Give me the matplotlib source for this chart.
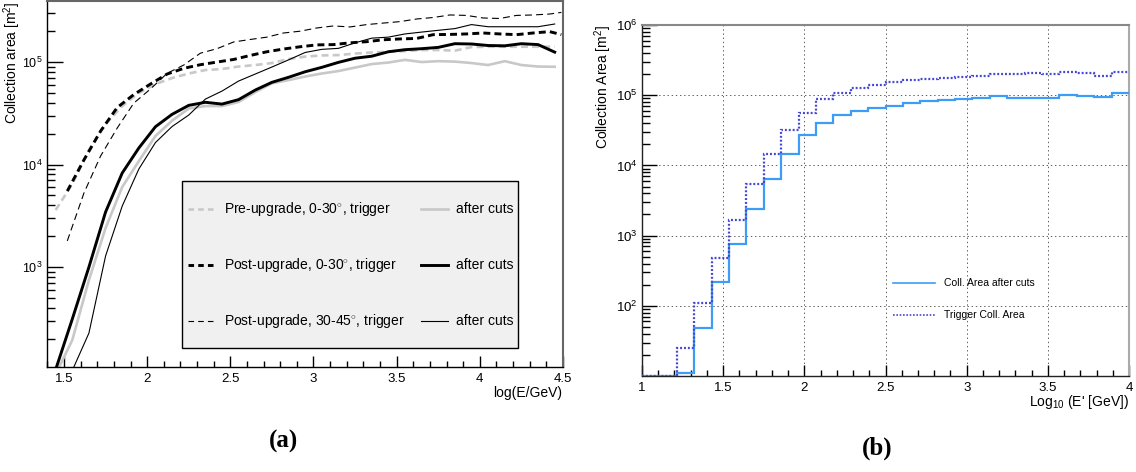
import numpy as np
import matplotlib
matplotlib.use("Agg")
import matplotlib.pyplot as plt
from matplotlib.lines import Line2D
from matplotlib.patches import Rectangle
from matplotlib.ticker import (LogLocator, LogFormatterMathtext, MultipleLocator,
                               NullFormatter, FixedLocator, FuncFormatter)

plt.rcParams.update({
    "font.family": ["Liberation Sans", "DejaVu Sans"],
    "mathtext.fontset": "custom",
    "mathtext.rm": "Liberation Sans",
    "mathtext.it": "Liberation Sans:italic",
    "mathtext.bf": "Liberation Sans:bold",
    "lines.scale_dashes": False,
    "font.size": 10,
})

# ---------------- panel (a): collection area vs log(E/GeV) ----------------
logE = [1.45, 1.55, 1.65, 1.75, 1.85, 1.95, 2.05, 2.15, 2.25, 2.35, 2.45, 2.55,
        2.65, 2.75, 2.85, 2.95, 3.05, 3.15, 3.25, 3.35, 3.45, 3.55, 3.65, 3.75,
        3.85, 3.95, 4.05, 4.15, 4.25, 4.35, 4.45]
logE_post_trig = [1.52, 1.62, 1.72, 1.82, 1.92, 2.02, 2.12, 2.22, 2.32, 2.42, 2.52,
                  2.62, 2.72, 2.82, 2.92, 3.02, 3.12, 3.22, 3.32, 3.42, 3.52, 3.62,
                  3.72, 3.82, 3.92, 4.02, 4.12, 4.22, 4.32, 4.42, 4.49]

pre_trig = [3600, 6460, 13800, 24800, 37200, 49900, 61000, 69800, 77300, 83600,
            85500, 90400, 93500, 97800, 107000, 113000, 116000, 117000, 121000,
            124000, 126000, 128000, 131000, 131000, 129000, 140000, 141000,
            141000, 141000, 141000, 141000]
pre_cuts = [90, 194, 747, 2400, 6030, 10800, 19000, 26800, 35200, 37200, 37200,
            40800, 50900, 62000, 66700, 72200, 77300, 81700, 88300, 95600, 98900,
            105000, 100000, 102000, 101000, 97800, 93500, 102000, 93500, 90400,
            89900]
post_trig = [5510, 11100, 21200, 36000, 48200, 61000, 76400, 86800, 94200,
             100000, 106000, 116000, 126000, 134000, 141000, 147000, 148000,
             154000, 158000, 165000, 168000, 170000, 185000, 186000, 188000,
             192000, 188000, 185000, 192000, 198000, 185000]
post_cuts = [100, 311, 1000, 3440, 8260, 14500, 23400, 30900, 37800, 40500, 38900,
             43000, 53300, 63400, 71000, 80400, 88800, 99300, 109000, 114000,
             126000, 132000, 135000, 139000, 151000, 150000, 145000, 144000,
             151000, 148000, 125000]
post45_trig = [1800, 5270, 12100, 22700, 39800, 54600, 77600, 93500, 122000,
               135000, 157000, 166000, 175000, 192000, 200000, 215000, 225000,
               220000, 232000, 240000, 248000, 263000, 272000, 288000, 285000,
               269000, 266000, 285000, 288000, 294000, 305000]
post45_cuts = [30, 98, 227, 1280, 3930, 9040, 16400, 23500, 30400, 43500, 52100,
               65300, 76400, 89400, 105000, 124000, 133000, 136000, 154000, 171000,
               175000, 188000, 196000, 204000, 212000, 232000, 221000, 221000,
               221000, 221000, 235000]

# ---------------- panel (b): binned collection area ----------------
bin_edges = np.linspace(1.0, 4.0, 29)
area_after_cuts = [10, 10, 11, 49, 215, 750, 2420, 6460, 14700, 26900, 40300,
                   51800, 59900, 66800, 71300, 76200, 83000, 85800, 88700, 90600,
                   96800, 92600, 92600, 92600, 101000, 97900, 93700, 107000]
area_trigger = [10, 10, 25, 108, 475, 1690, 5450, 14300, 32400, 56000, 88700,
                106000, 127000, 142000, 153000, 163000, 172000, 176000, 184000,
                190000, 201000, 201000, 205000, 201000, 212000, 205000, 190000,
                212000]

W, H = 1136, 472
fig = plt.figure(figsize=(W / 100, H / 100), dpi=100)


def fig_box(x0, y0, x1, y1):
    """pixel box (top-left origin) -> figure fraction rect"""
    return [x0 / W, 1 - y1 / H, (x1 - x0) / W, (y1 - y0) / H]


def fx(px):
    return px / W


def fy(py):
    return 1 - py / H


GREY = "#c8c8c8"

# ----- left axes -----
ax1 = fig.add_axes(fig_box(47, 1, 563, 367))
ax1.set_yscale("log")
ax1.set_xlim(1.398, 4.5)
ax1.set_ylim(106, 3.94e5)

dash = (0, (5, 3))
ax1.plot(logE, pre_trig, color=GREY, lw=1.9, ls=dash)
ax1.plot(logE, pre_cuts, color=GREY, lw=1.9)
ax1.plot(logE_post_trig, post_trig, color="black", lw=2.1, ls=dash)
ax1.plot(logE, post_cuts, color="black", lw=2.1)
ax1.plot(logE_post_trig, post45_trig, color="black", lw=0.8, ls=dash)
ax1.plot(logE, post45_cuts, color="black", lw=0.8)

ax1.xaxis.set_major_locator(FixedLocator([1.5, 2, 2.5, 3, 3.5, 4, 4.5]))
ax1.xaxis.set_major_formatter(FuncFormatter(lambda v, p: f"{v:g}"))
ax1.xaxis.set_minor_locator(MultipleLocator(0.1))
ax1.yaxis.set_major_locator(LogLocator(base=10))
ax1.yaxis.set_major_formatter(LogFormatterMathtext())
ax1.yaxis.set_minor_locator(LogLocator(base=10, subs=np.arange(2, 10)))
ax1.yaxis.set_minor_formatter(NullFormatter())
ax1.tick_params(axis="x", which="major", direction="in", length=8, width=1,
                labelsize=9.5, pad=4, top=False)
ax1.tick_params(axis="x", which="minor", direction="in", length=4, width=1, top=False)
ax1.tick_params(axis="y", which="major", direction="in", length=11.5, width=1,
                labelsize=9, pad=3, right=False)
ax1.tick_params(axis="y", which="minor", direction="in", length=5.8, width=1, right=False)
for s in ("left", "bottom"):
    ax1.spines[s].set_color("black")
    ax1.spines[s].set_linewidth(1)
for s in ("top", "right"):
    ax1.spines[s].set_color("#666666")
    ax1.spines[s].set_linewidth(1.5)

# legend for panel (a)
lg = ax1.transAxes
ax1.add_patch(Rectangle((0.2616, 0.052), 0.6512, 0.4574, transform=lg,
                        facecolor="#f0f0f0", edgecolor="black", lw=1, zorder=5))
rows = [
    ("Pre-upgrade, 0-30$^{\\circ}$, trigger", GREY, 1.9),
    ("Post-upgrade, 0-30$^{\\circ}$, trigger", "black", 2.1),
    ("Post-upgrade, 30-45$^{\\circ}$, trigger", "black", 0.8),
]
row_y = [0.4329, 0.2795, 0.126]
for (label, col, lw), yy in zip(rows, row_y):
    ax1.add_line(Line2D([0.2733, 0.3256], [yy, yy], transform=lg, color=col, lw=lw,
                        ls=(0, (4, 3)), zorder=6))
    ax1.text(0.343, yy, label, transform=lg, fontsize=10, va="center", ha="left", zorder=6)
    ax1.add_line(Line2D([0.7248, 0.7771], [yy, yy], transform=lg, color=col, lw=lw,
                        zorder=6))
    ax1.text(0.7926, yy, "after cuts", transform=lg, fontsize=10, va="center",
             ha="left", zorder=6)

fig.text(fx(12), fy(1), "Collection area [m$^{2}$]", rotation=90, ha="center",
         va="top", fontsize=10)
fig.text(fx(562), fy(397), "log(E/GeV)", ha="right", va="baseline", fontsize=10)

# ----- right axes -----
ax2 = fig.add_axes(fig_box(642, 25, 1129, 376))
ax2.set_yscale("log")
ax2.set_xlim(1, 4)
ax2.set_ylim(10, 1e6)
ax2.set_axisbelow(True)
ax2.grid(True, which="major", color="#444444", ls=(0, (1, 2)), lw=0.6)

ax2.stairs(area_after_cuts, bin_edges, baseline=None, color="#3d9cf5", lw=1.6,
           zorder=3)
ax2.stairs(area_trigger, bin_edges, baseline=None, color="#4646d4", lw=1.6,
           ls=(0, (1.4, 1.4)), zorder=4)

ax2.xaxis.set_major_locator(FixedLocator([1, 1.5, 2, 2.5, 3, 3.5, 4]))
ax2.xaxis.set_major_formatter(FuncFormatter(lambda v, p: f"{v:g}"))
ax2.xaxis.set_minor_locator(MultipleLocator(0.1))
ax2.yaxis.set_major_locator(FixedLocator([1e2, 1e3, 1e4, 1e5, 1e6]))
ax2.yaxis.set_major_formatter(LogFormatterMathtext())
ax2.yaxis.set_minor_locator(LogLocator(base=10, subs=np.arange(2, 10)))
ax2.yaxis.set_minor_formatter(NullFormatter())
ax2.tick_params(axis="x", which="major", direction="in", length=8, width=1,
                labelsize=9.5, pad=4, top=False)
ax2.tick_params(axis="x", which="minor", direction="in", length=4.3, width=1, top=False)
ax2.tick_params(axis="y", which="major", direction="in", length=10.8, width=1,
                labelsize=9.5, pad=3, right=False)
ax2.tick_params(axis="y", which="minor", direction="in", length=5.8, width=1, right=False)
for s in ("left", "bottom"):
    ax2.spines[s].set_color("#222222")
    ax2.spines[s].set_linewidth(1)
ax2.spines["top"].set_color("#888888")
ax2.spines["top"].set_linewidth(1.5)
ax2.spines["right"].set_color("#aaaaaa")
ax2.spines["right"].set_linewidth(1.5)

lg2 = ax2.transAxes
ax2.add_line(Line2D([0.5154, 0.6016], [0.265, 0.265], transform=lg2,
                    color="#3d9cf5", lw=1.2))
ax2.text(0.6201, 0.265, "Coll. Area after cuts", transform=lg2, fontsize=7.5,
         va="center", ha="left")
ax2.add_line(Line2D([0.5154, 0.6016], [0.1738, 0.1738], transform=lg2,
                    color="#4646d4", lw=1.2, ls=(0, (1.2, 1.2))))
ax2.text(0.6201, 0.1738, "Trigger Coll. Area", transform=lg2, fontsize=7.5,
         va="center", ha="left")

fig.text(fx(603), fy(25), "Collection Area [m$^{2}$]", rotation=90, ha="center",
         va="top", fontsize=10)
fig.text(fx(1129), fy(406), "Log$_{10}$ (E' [GeV])", ha="right", va="baseline",
         fontsize=10)

# panel tags
fig.text(fx(283), fy(441), "(a)", family="Liberation Serif", weight="bold",
         fontsize=18, ha="center", va="center")
fig.text(fx(877), fy(448), "(b)", family="Liberation Serif", weight="bold",
         fontsize=18, ha="center", va="center")

fig.savefig("out.png", dpi=100)
